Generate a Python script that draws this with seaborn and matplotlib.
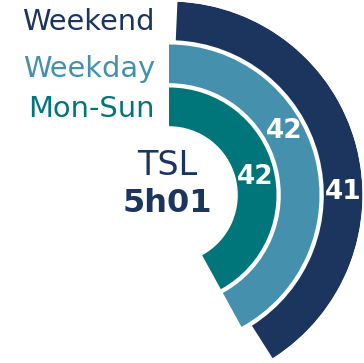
import numpy as np
import matplotlib
matplotlib.use("Agg")
import matplotlib.pyplot as plt
import seaborn as sns

# Radial bar data (innermost ring first)
categories = ["Mon-Sun", "Weekday", "Weekend"]
values = [42, 42, 41]
value_labels = ["42", "42", "41"]
center_title = "TSL"
center_value = "5h01"

scale_max = 100  # a full turn of the circle
colors = ["#00767a", "#4590ad", "#1c355e"]

sns.set_theme(style="white")
plt.rcParams["font.family"] = ["DejaVu Sans"]

W, H = 364, 363
fig = plt.figure(figsize=(W / 100, H / 100), dpi=100)

# polar axes centred at (169, 195) px with a 193.5 px radius
cx, cy, R = 169, 195, 193.5
ax = fig.add_axes([(cx - R) / W, (H - cy - R) / H, 2 * R / W, 2 * R / H],
                  projection="polar")
ax.set_theta_zero_location("N")
ax.set_theta_direction(-1)

pos = np.arange(len(categories))
start = np.deg2rad([0.0, 0.0, 2.5])
ends = np.array(values) / scale_max * 2 * np.pi
ax.barh(pos, ends - start, left=start, height=0.9, color=colors,
        edgecolor="none", align="center")
ax.set_ylim(-2.05, 2.45)
ax.set_xlim(0, 2 * np.pi)
ax.grid(False)
ax.set_xticks([])
ax.set_yticks([])
ax.spines["polar"].set_visible(False)
ax.patch.set_alpha(0)

# value labels inside each ring
label_angles = [78, 61, 89]
for p, lab, a in zip(pos, value_labels, label_angles):
    ax.text(np.deg2rad(a), p, lab, color="white", fontsize=19,
            fontweight="bold", ha="center", va="center")

# category names to the left of the ring starts
name_y = [109, 69, 22]
for name, col, y in zip(categories, colors, name_y):
    fig.text(155 / W, 1 - y / H, name, color=col, fontsize=20.8,
             ha="right", va="center")

fig.text(167 / W, 1 - 165 / H, center_title, color="#1c355e", fontsize=24,
         ha="center", va="center")
fig.text(167 / W, 1 - 204 / H, center_value, color="#1c355e", fontsize=23,
         fontweight="bold", ha="center", va="center")

fig.savefig("out.png", dpi=100, facecolor="white")
